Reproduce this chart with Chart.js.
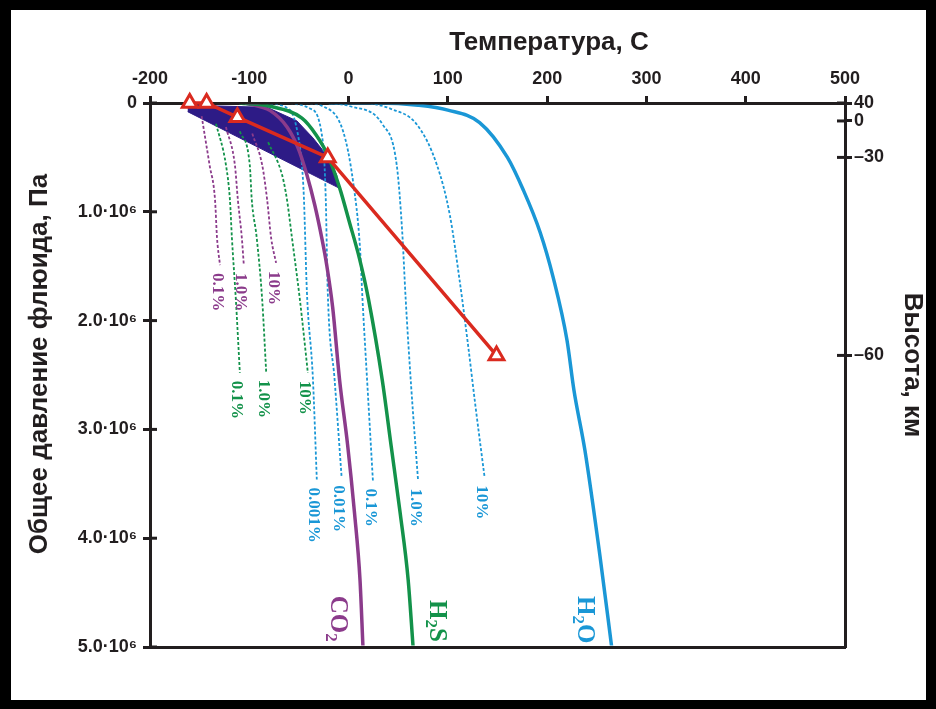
<!DOCTYPE html>
<html>
<head>
<meta charset="utf-8">
<script src="https://cdn.jsdelivr.net/npm/chart.js@4"></script>
<style>
  html, body { margin: 0; padding: 0; background: #000; }
  #chart { display: block; }
</style>
</head>
<body>
<canvas id="chart" width="936" height="709"></canvas>
<script>
// axis values
const pressureTicks = [0, 1, 2, 3, 4, 5];          // x 10^6 Pa
const heightLabels = ['40', '0', '–30', '–60'];    // km
const heightAt = [0, 0.165, 0.5, 2.32];            // pressure for each height tick

// solid saturation curves (temperature C, pressure 10^6 Pa)
const h2oT = [-20, 30, 70, 100, 132, 160, 176, 193, 206, 220, 227, 238, 253, 265];
const h2oP = [0, 0, 0.02, 0.065, 0.18, 0.5, 0.8, 1.19, 1.6, 2.18, 2.64, 3.19, 4.15, 5.0];
const h2sT = [-110, -79, -47, -33, -21, -9, 1, 11, 20, 34, 43, 52, 60, 65];
const h2sP = [0, 0.03, 0.14, 0.29, 0.48, 0.78, 1.1, 1.43, 1.8, 2.55, 3.16, 3.77, 4.38, 5.0];
const co2T = [-104, -79, -62, -51, -42, -34, -27, -22, -16, -9, -1, 6, 11.5, 14.5];
const co2P = [0, 0.07, 0.22, 0.41, 0.66, 0.94, 1.24, 1.49, 1.88, 2.55, 3.14, 3.77, 4.38, 5.0];

// dashed concentration curves
const co2Pct = ['0.1%', '1.0%', '10%'];
const co2DashT = [
  [-148, -140, -134.5, -132.5, -129.5],
  [-123.5, -114.5, -111.5, -107.5, -105.5],
  [-97, -87, -82, -78, -73]
];
const co2DashP = [
  [0.12, 0.57, 0.89, 1.24, 1.49],
  [0.22, 0.57, 0.89, 1.24, 1.49],
  [0.28, 0.57, 0.89, 1.24, 1.47]
];
const h2sPct = ['0.1%', '1.0%', '10%'];
const h2sDashT = [
  [-133.5, -123.5, -119.5, -117.5, -113.5, -109.5],
  [-109.5, -99.5, -97.5, -92.5, -87, -83],
  [-81, -67, -62, -57, -49, -41]
];
const h2sDashP = [
  [0.19, 0.57, 0.89, 1.24, 1.81, 2.48],
  [0.26, 0.57, 0.89, 1.24, 1.81, 2.47],
  [0.36, 0.66, 0.89, 1.24, 1.81, 2.48]
];
const h2oPct = ['0.001%', '0.01%', '0.1%', '1.0%', '10%'];
const h2oDashT = [
  [-84, -59, -51, -47, -45, -42, -36, -32],
  [-59, -39, -26, -23, -21, -14, -7],
  [-44, -26, -5.5, 4.5, 11.5, 14, 19, 24.5],
  [-19, 1.5, 34.5, 48.5, 54, 57.5, 63, 70],
  [21.5, 41.5, 69, 89, 102, 112, 120, 128, 137]
];
const h2oDashP = [
  [0, 0.064, 0.29, 0.57, 0.87, 1.73, 2.52, 3.46],
  [0, 0.05, 0.35, 0.87, 1.73, 2.55, 3.44],
  [0, 0.03, 0.26, 0.72, 1.33, 1.8, 2.6, 3.47],
  [0, 0.03, 0.2, 0.57, 1.18, 1.8, 2.6, 3.47],
  [0, 0.05, 0.2, 0.57, 1.03, 1.64, 2.2, 2.8, 3.44]
];

// shaded region and atmosphere profile
const zoneT = [-162, -82, -52, -36, -22, -12, -10, -162];
const zoneP = [0.02, 0.04, 0.165, 0.32, 0.48, 0.66, 0.78, 0.08];
const profileT = [-160, -143, -112, -21, 149];
const profileP = [0, 0, 0.13, 0.5, 2.32];

const PURPLE = '#8b3b8b', GREEN = '#13924a', BLUE = '#1a97d6', RED = '#da2a1f', NAVY = '#2d1b86', INK = '#221e1f';
const SANS = "'Liberation Sans', Arial, sans-serif";
const SERIF = "'Liberation Serif', 'Times New Roman', serif";

const pts = (t, p) => t.map((v, i) => ({ x: v, y: p[i] }));
const inner = { left: -1.5, top: -1.5, right: -1.5, bottom: -1.5 };

const datasets = [];
datasets.push({ data: pts(profileT, profileP), borderColor: RED, borderWidth: 3.5, showLine: true, tension: 0,
  pointStyle: 'triangle', pointRadius: 8.5, pointBackgroundColor: '#fff', pointBorderColor: RED, pointBorderWidth: 3,
  clip: false, order: 0 });
[[h2oT, h2oP, BLUE], [h2sT, h2sP, GREEN], [co2T, co2P, PURPLE]].forEach(([t, p, c]) => {
  datasets.push({ data: pts(t, p), borderColor: c, borderWidth: 3.5, showLine: true, cubicInterpolationMode: 'monotone',
    pointRadius: 0, clip: inner, order: 1 });
});
[[co2DashT, co2DashP, co2Pct, PURPLE], [h2sDashT, h2sDashP, h2sPct, GREEN], [h2oDashT, h2oDashP, h2oPct, BLUE]].forEach(([ts, ps, names, c]) => {
  ts.forEach((t, i) => {
    datasets.push({ data: pts(t, ps[i]), borderColor: c, borderWidth: 1.8, borderDash: [3, 2], showLine: true,
      cubicInterpolationMode: 'monotone', pointRadius: 0, clip: inner, order: 2, endLabel: names[i] });
  });
});
datasets.push({ data: pts(zoneT, zoneP), borderColor: NAVY, backgroundColor: NAVY, borderWidth: 1, showLine: true, tension: 0,
  pointRadius: 0, fill: 'shape', clip: inner, order: 3 });

const gasLabels = [
  { main: 'CO', sub: '2', rest: '', t: -11, p: 4.74, color: PURPLE },
  { main: 'H', sub: '2', rest: 'S', t: 89, p: 4.76, color: GREEN },
  { main: 'H', sub: '2', rest: 'O', t: 238, p: 4.75, color: BLUE }
];

const tickFont = { family: SANS, size: 18, weight: 'bold' };

const decor = {
  id: 'decor',
  beforeDraw(chart) {
    const ctx = chart.ctx;
    ctx.save();
    ctx.fillStyle = '#000';
    ctx.fillRect(0, 0, chart.width, chart.height);
    ctx.fillStyle = '#fff';
    ctx.fillRect(11, 10, 915, 690);
    ctx.restore();
  },
  afterDraw(chart) {
    const ctx = chart.ctx;
    const { x, y, y2 } = chart.scales;
    ctx.save();
    // inner half of the crossing ticks
    ctx.strokeStyle = INK;
    ctx.lineWidth = 3;
    y.ticks.forEach(tk => {
      const py = y.getPixelForValue(tk.value);
      ctx.beginPath(); ctx.moveTo(y.right, py); ctx.lineTo(y.right + 7, py); ctx.stroke();
    });
    y2.ticks.forEach(tk => {
      const py = y2.getPixelForValue(tk.value);
      ctx.beginPath(); ctx.moveTo(y2.left - 8, py); ctx.lineTo(y2.left, py); ctx.stroke();
    });

    // axis titles
    ctx.fillStyle = INK;
    ctx.font = `bold 26px ${SANS}`;
    ctx.textAlign = 'center';
    ctx.textBaseline = 'middle';
    ctx.fillText('Температура, С', 549, 43);
    ctx.save(); ctx.translate(40, 364); ctx.rotate(-Math.PI / 2); ctx.fillText('Общее давление флюида, Па', 0, 0); ctx.restore();
    ctx.save(); ctx.translate(912, 365); ctx.rotate(Math.PI / 2); ctx.fillText('Высота, км', 0, 0); ctx.restore();

    // percentage labels under the dashed curves
    ctx.font = `bold 17px ${SERIF}`;
    ctx.textAlign = 'left';
    chart.data.datasets.forEach((ds, i) => {
      if (!ds.endLabel) return;
      const pts = chart.getDatasetMeta(i).data;
      const end = pts[pts.length - 1];
      ctx.save();
      ctx.translate(end.x - 3, end.y + 8);
      ctx.rotate(Math.PI / 2);
      ctx.fillStyle = ds.borderColor;
      ctx.fillText(ds.endLabel, 0, 0);
      ctx.restore();
    });

    // gas names
    gasLabels.forEach(g => {
      const px = x.getPixelForValue(g.t), py = y.getPixelForValue(g.p);
      ctx.save();
      ctx.translate(px, py);
      ctx.rotate(Math.PI / 2);
      ctx.fillStyle = g.color;
      ctx.textAlign = 'left';
      ctx.font = `bold 25px ${SERIF}`;
      const w1 = ctx.measureText(g.main).width, w3 = ctx.measureText(g.rest).width;
      ctx.font = `bold 17px ${SERIF}`;
      const w2 = ctx.measureText(g.sub).width;
      let cx = -(w1 + w2 + w3) / 2;
      ctx.font = `bold 25px ${SERIF}`;
      ctx.fillText(g.main, cx, 0); cx += w1;
      ctx.font = `bold 17px ${SERIF}`;
      ctx.fillText(g.sub, cx, 7); cx += w2;
      ctx.font = `bold 25px ${SERIF}`;
      ctx.fillText(g.rest, cx, 0);
      ctx.restore();
    });
    ctx.restore();
  }
};

new Chart(document.getElementById('chart'), {
  type: 'scatter',
  data: { datasets },
  options: {
    responsive: false,
    devicePixelRatio: 1,
    animation: false,
    layout: { padding: 0 },
    plugins: { legend: { display: false }, tooltip: { enabled: false } },
    scales: {
      x: {
        type: 'linear', position: 'top', min: -200, max: 500,
        afterFit: s => { s.height = 103; },
        ticks: { stepSize: 100, font: tickFont, color: INK, padding: 6 },
        grid: { drawOnChartArea: false, tickLength: 7, tickWidth: 3, tickColor: INK },
        border: { color: INK, width: 3 }
      },
      x2: {
        type: 'linear', position: 'bottom', min: -200, max: 500,
        afterFit: s => { s.height = 62; },
        ticks: { display: false },
        grid: { drawOnChartArea: false, drawTicks: false },
        border: { color: INK, width: 3 }
      },
      y: {
        type: 'linear', position: 'left', min: 0, max: 5, reverse: true,
        afterFit: s => { s.width = 150; },
        afterBuildTicks: s => { s.ticks = pressureTicks.map(v => ({ value: v })); },
        ticks: { font: tickFont, color: INK, padding: 6,
          callback: v => v === 0 ? '0' : v.toFixed(1) + '·10⁶' },
        grid: { drawOnChartArea: false, tickLength: 7, tickWidth: 3, tickColor: INK },
        border: { color: INK, width: 3 }
      },
      y2: {
        type: 'linear', position: 'right', min: 0, max: 5, reverse: true,
        afterFit: s => { s.width = 91; },
        afterBuildTicks: s => { s.ticks = heightAt.map(v => ({ value: v })); },
        ticks: { font: tickFont, color: INK, padding: 2, autoSkip: false,
          callback: (v, i) => heightLabels[i] },
        grid: { drawOnChartArea: false, tickLength: 7, tickWidth: 3, tickColor: INK },
        border: { color: INK, width: 3 }
      }
    }
  },
  plugins: [decor]
});
</script>
</body>
</html>
